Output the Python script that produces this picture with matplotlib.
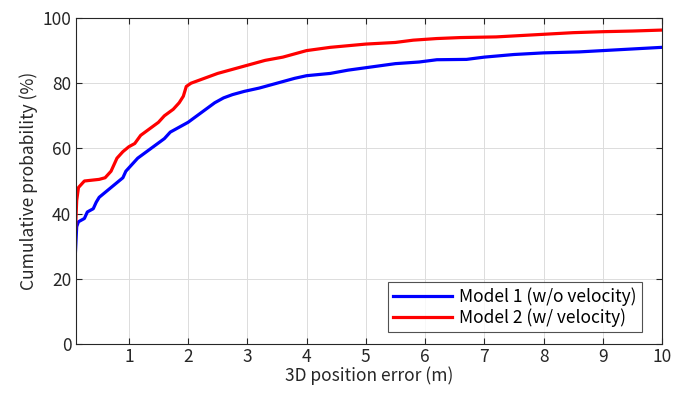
import matplotlib
matplotlib.use("Agg")
import matplotlib.pyplot as plt

plt.rcParams['font.family'] = ['Noto Sans CJK JP', 'DejaVu Sans']

# Model 1 (blue)
x1 = [0.1, 0.12, 0.15, 0.25, 0.3, 0.4, 0.45, 0.5, 0.6, 0.7, 0.8, 0.9, 0.95, 1.05, 1.15, 1.3,
      1.45, 1.6, 1.7, 1.85, 2.0, 2.15, 2.3, 2.45, 2.6, 2.75, 2.95, 3.2, 3.4, 3.6, 3.8, 4.0,
      4.4, 4.7, 5.1, 5.5, 5.9, 6.2, 6.7, 7.0, 7.5, 8.0, 8.6, 9.0, 9.5, 10.0]
y1 = [28.5, 36, 37.5, 38.5, 40.5, 41.5, 43.5, 45, 46.5, 48, 49.5, 51, 53, 55, 57, 59,
      61, 63, 65, 66.5, 68, 70, 72, 74, 75.5, 76.5, 77.5, 78.5, 79.5, 80.5, 81.5, 82.3,
      83, 84, 85, 86, 86.5, 87.2, 87.3, 88, 88.8, 89.3, 89.6, 90, 90.5, 91]

# Model 2 (red)
x2 = [0.1, 0.12, 0.15, 0.2, 0.25, 0.5, 0.6, 0.7, 0.75, 0.8, 0.9, 1.0, 1.1, 1.2, 1.35, 1.5,
      1.6, 1.75, 1.85, 1.92, 1.97, 2.05, 2.2, 2.35, 2.5, 2.7, 2.9, 3.1, 3.3, 3.6, 3.8, 4.0,
      4.4, 5.0, 5.5, 5.8, 6.2, 6.6, 7.2, 7.5, 8.0, 8.5, 9.0, 9.5, 10.0]
y2 = [35, 44, 48, 49, 50, 50.5, 51, 53, 55, 57, 59, 60.5, 61.5, 64, 66, 68,
      70, 72, 74, 76, 79, 80, 81, 82, 83, 84, 85, 86, 87, 88, 89, 90,
      91, 92, 92.5, 93.2, 93.7, 94, 94.2, 94.5, 95, 95.5, 95.8, 96, 96.3]

labels = ['Model 1 (w/o velocity)', 'Model 2 (w/ velocity)']
xticks = list(range(1, 11))
yticks = list(range(0, 101, 20))

FS = 12.5
fig = plt.figure(figsize=(6.77, 3.95), dpi=100)
ax = fig.add_axes([75.5 / 677, 1 - 344 / 395, (662 - 75.5) / 677, (344 - 18) / 395])
ax.plot(x1, y1, color='#0000ff', lw=2.3, label=labels[0])
ax.plot(x2, y2, color='#ff0000', lw=2.3, label=labels[1])
ax.set_xlim(0.1, 10)
ax.set_ylim(0, 100)
ax.set_xticks(xticks)
ax.set_yticks(yticks)
ax.grid(True, color='#dcdcdc', lw=0.7)
ax.set_axisbelow(True)
ax.tick_params(direction='in', top=True, right=True, labelsize=FS, colors='#262626', length=4, pad=3)
for s in ax.spines.values():
    s.set_color('#262626')
    s.set_linewidth(0.8)
ax.set_xlabel('3D position error (m)', fontsize=FS, color='#262626', labelpad=0)
ax.set_ylabel('Cumulative probability (%)', fontsize=FS, color='#262626', labelpad=3)
leg = ax.legend(loc='lower right', fontsize=FS, frameon=True, fancybox=False,
                edgecolor='#262626', handlelength=3.4, handletextpad=0.4, borderpad=0.3,
                labelspacing=0.12, borderaxespad=0, bbox_to_anchor=(0.966, 0.037))
leg.get_frame().set_linewidth(0.8)
fig.savefig('out.png', dpi=100)
